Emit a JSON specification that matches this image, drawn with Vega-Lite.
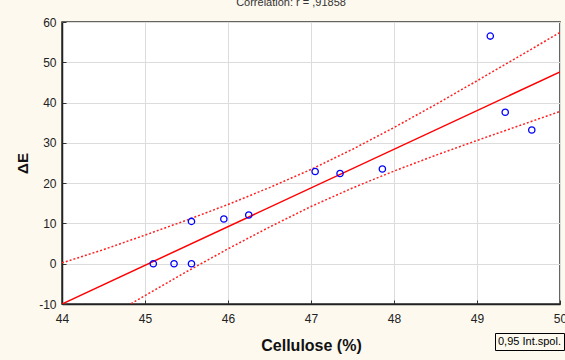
{
  "$schema": "https://vega.github.io/schema/vega-lite/v6.json",
  "width": 498,
  "height": 282,
  "autosize": {"type": "none"},
  "padding": {"left": 62, "top": 22, "right": 5, "bottom": 56},
  "background": "#fdf9ef",
  "title": {"text": "Correlation: r = ,91858", "fontSize": 11, "fontWeight": "normal", "color": "#333333", "offset": 8, "dx": -20, "font": "Liberation Sans"},
  "config": {
    "font": "Liberation Sans",
    "view": {"fill": "white", "stroke": "#333333", "strokeWidth": 1.5},
    "axis": {
      "domainColor": "#222222",
      "domainWidth": 1.5,
      "gridColor": "#dcdcdc",
      "gridWidth": 1,
      "tickColor": "#333333",
      "tickSize": -4,
      "labelFontSize": 12,
      "labelColor": "#222222",
      "labelFont": "Liberation Sans",
      "titleFont": "Liberation Sans",
      "titleColor": "#111111",
      "titleFontWeight": "bold",
      "labelExpr": "'' + datum.value"
    }
  },
  "datasets": {
    "points": [
      {"cellulose": 45.10, "dE": 0.0},
      {"cellulose": 45.35, "dE": 0.0},
      {"cellulose": 45.56, "dE": 0.0},
      {"cellulose": 45.56, "dE": 10.5},
      {"cellulose": 45.95, "dE": 11.1},
      {"cellulose": 46.25, "dE": 12.1},
      {"cellulose": 47.05, "dE": 22.9},
      {"cellulose": 47.35, "dE": 22.4},
      {"cellulose": 47.86, "dE": 23.5},
      {"cellulose": 49.16, "dE": 56.5},
      {"cellulose": 49.34, "dE": 37.6},
      {"cellulose": 49.66, "dE": 33.2}
    ],
    "fit": [
      {"cellulose": 44, "dE": -10.0},
      {"cellulose": 50, "dE": 47.6}
    ],
    "bands": [
      {"cellulose": 44.0, "dE": 0.2, "side": "upper", "label": "0,95 Int.spol."},
      {"cellulose": 44.5, "dE": 3.5, "side": "upper", "label": "0,95 Int.spol."},
      {"cellulose": 45.0, "dE": 7.1, "side": "upper", "label": "0,95 Int.spol."},
      {"cellulose": 45.5, "dE": 10.8, "side": "upper", "label": "0,95 Int.spol."},
      {"cellulose": 46.0, "dE": 14.7, "side": "upper", "label": "0,95 Int.spol."},
      {"cellulose": 46.5, "dE": 18.9, "side": "upper", "label": "0,95 Int.spol."},
      {"cellulose": 47.0, "dE": 23.4, "side": "upper", "label": "0,95 Int.spol."},
      {"cellulose": 47.5, "dE": 28.4, "side": "upper", "label": "0,95 Int.spol."},
      {"cellulose": 48.0, "dE": 33.8, "side": "upper", "label": "0,95 Int.spol."},
      {"cellulose": 48.5, "dE": 39.5, "side": "upper", "label": "0,95 Int.spol."},
      {"cellulose": 49.0, "dE": 45.4, "side": "upper", "label": "0,95 Int.spol."},
      {"cellulose": 49.5, "dE": 51.4, "side": "upper", "label": "0,95 Int.spol."},
      {"cellulose": 50.0, "dE": 57.4, "side": "upper", "label": "0,95 Int.spol."},
      {"cellulose": 44.0, "dE": -19.9, "side": "lower", "label": "0,95 Int.spol."},
      {"cellulose": 44.5, "dE": -13.9, "side": "lower", "label": "0,95 Int.spol."},
      {"cellulose": 45.0, "dE": -7.9, "side": "lower", "label": "0,95 Int.spol."},
      {"cellulose": 45.5, "dE": -2.0, "side": "lower", "label": "0,95 Int.spol."},
      {"cellulose": 46.0, "dE": 3.7, "side": "lower", "label": "0,95 Int.spol."},
      {"cellulose": 46.5, "dE": 9.1, "side": "lower", "label": "0,95 Int.spol."},
      {"cellulose": 47.0, "dE": 14.2, "side": "lower", "label": "0,95 Int.spol."},
      {"cellulose": 47.5, "dE": 18.8, "side": "lower", "label": "0,95 Int.spol."},
      {"cellulose": 48.0, "dE": 23.0, "side": "lower", "label": "0,95 Int.spol."},
      {"cellulose": 48.5, "dE": 26.9, "side": "lower", "label": "0,95 Int.spol."},
      {"cellulose": 49.0, "dE": 30.6, "side": "lower", "label": "0,95 Int.spol."},
      {"cellulose": 49.5, "dE": 34.2, "side": "lower", "label": "0,95 Int.spol."},
      {"cellulose": 50.0, "dE": 37.8, "side": "lower", "label": "0,95 Int.spol."}
    ]
  },
  "layer": [
    {
      "data": {"name": "bands"},
      "mark": {"type": "line", "color": "#ff2020", "strokeWidth": 1.5, "clip": true},
      "encoding": {
        "x": {
          "field": "cellulose", "type": "quantitative",
          "scale": {"domain": [44, 50], "nice": false, "zero": false},
          "axis": {"values": [44, 45, 46, 47, 48, 49, 50], "title": "Cellulose (%)", "titleFontSize": 16, "titleX": 249, "titleY": 41, "titleBaseline": "middle", "labelPadding": 13, "labelFlush": false}
        },
        "y": {
          "field": "dE", "type": "quantitative",
          "scale": {"domain": [-10, 60], "nice": false, "zero": false},
          "axis": {"values": [-10, 0, 10, 20, 30, 40, 50, 60], "title": "ΔE", "titleFontSize": 15, "titleX": -40, "titleY": 141, "titleAngle": -90, "titleAlign": "center", "titleBaseline": "middle", "labelPadding": 10}
        },
        "detail": {"field": "side"},
        "strokeDash": {
          "field": "label", "type": "nominal",
          "scale": {"range": [[2, 2]]},
          "legend": {"orient": "none", "legendX": 433, "legendY": 311, "title": null, "strokeColor": "#000000", "padding": 3, "symbolSize": 0, "symbolStrokeWidth": 0, "labelOffset": -11, "labelFontSize": 11, "labelColor": "#000000", "labelFont": "Liberation Sans"}
        }
      }
    },
    {
      "data": {"name": "fit"},
      "mark": {"type": "line", "color": "#ff0000", "strokeWidth": 1.5, "clip": true},
      "encoding": {
        "x": {"field": "cellulose", "type": "quantitative"},
        "y": {"field": "dE", "type": "quantitative"}
      }
    },
    {
      "data": {"name": "points"},
      "mark": {"type": "point", "shape": "circle", "filled": false, "color": "#0000ff", "size": 40, "strokeWidth": 1.3, "opacity": 1},
      "encoding": {
        "x": {"field": "cellulose", "type": "quantitative"},
        "y": {"field": "dE", "type": "quantitative"}
      }
    }
  ]
}
